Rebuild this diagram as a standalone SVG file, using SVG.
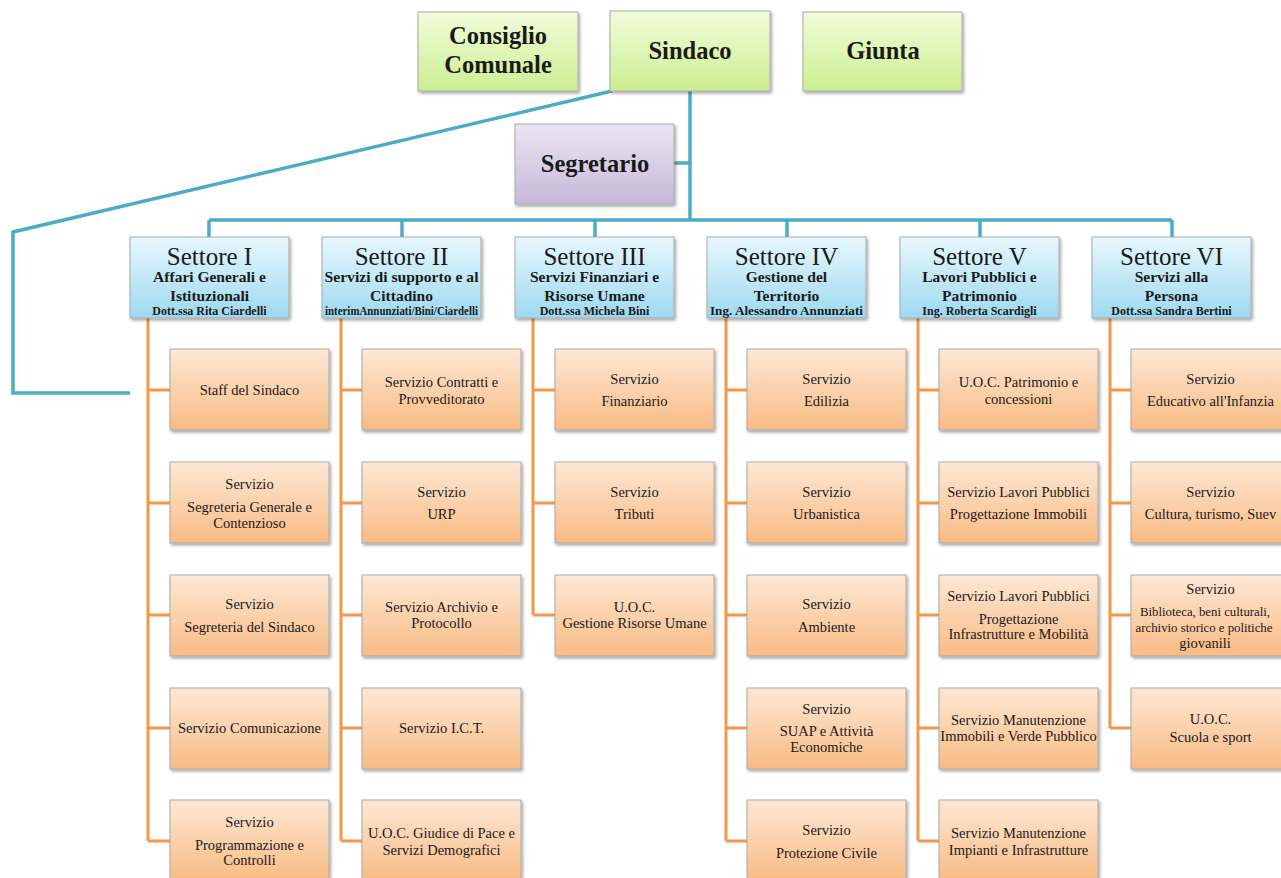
<svg xmlns="http://www.w3.org/2000/svg" width="1281" height="878" viewBox="0 0 1281 878">
<defs>
<linearGradient id="gGreen" x1="0" y1="0" x2="0" y2="1"><stop offset="0" stop-color="#f1fcda"/><stop offset="1" stop-color="#ccef92"/></linearGradient>
<linearGradient id="gPurple" x1="0" y1="0" x2="0" y2="1"><stop offset="0" stop-color="#ece6f3"/><stop offset="1" stop-color="#c7b8da"/></linearGradient>
<linearGradient id="gBlue" x1="0" y1="0" x2="0" y2="1"><stop offset="0" stop-color="#e8f7fd"/><stop offset="1" stop-color="#9dd9f0"/></linearGradient>
<linearGradient id="gOrange" x1="0" y1="0" x2="0" y2="1"><stop offset="0" stop-color="#fde8d6"/><stop offset="1" stop-color="#f9bb84"/></linearGradient>
<filter id="sh" x="-10%" y="-10%" width="125%" height="130%"><feDropShadow dx="1.5" dy="2" stdDeviation="1.5" flood-color="#000" flood-opacity="0.35"/></filter>
</defs>
<style>
.box{stroke:#a9a9a9;stroke-width:1;filter:url(#sh)}
.green{fill:url(#gGreen)}
.purple{fill:url(#gPurple)}
.blue{fill:url(#gBlue)}
.orange{fill:url(#gOrange)}
text{font-family:"Liberation Serif","DejaVu Serif",serif;fill:#1a1a1a;text-anchor:middle}
.top{font-size:24.5px;font-weight:bold}
.st{font-size:25px}
.sub{font-size:15.5px;font-weight:bold}
.nm{font-size:12px;font-weight:bold}
.sv{font-size:14.5px}
.svs{font-size:12.8px}
.cb{fill:none;stroke:#4bacc6;stroke-width:3.5}
.co{fill:none;stroke:#f79646;stroke-width:3}
</style>
<rect width="1281" height="878" fill="#ffffff"/>

<g id="connectors">
<path class="cb" d="M690 91 V220 M674 163 H690 M209 220 H1172 M209 220 V237 M402 220 V237 M595 220 V237 M787 220 V237 M980 220 V237 M1172 220 V237"/>
<path class="cb" d="M612 91 L13 232 V393 H130"/>
<path class="co" d="M148 318 V841 M148 390 H170 M148 503 H170 M148 615 H170 M148 728 H170 M148 841 H170"/>
<path class="co" d="M341 318 V841 M341 390 H362 M341 503 H362 M341 615 H362 M341 728 H362 M341 841 H362"/>
<path class="co" d="M533 318 V615 M533 390 H555 M533 503 H555 M533 615 H555"/>
<path class="co" d="M726 318 V841 M726 390 H747 M726 503 H747 M726 615 H747 M726 728 H747 M726 841 H747"/>
<path class="co" d="M918 318 V841 M918 390 H939 M918 503 H939 M918 615 H939 M918 728 H939 M918 841 H939"/>
<path class="co" d="M1110 318 V728 M1110 390 H1131 M1110 503 H1131 M1110 615 H1131 M1110 728 H1131"/>
</g>

<g id="consiglio"><rect class="box green" x="418" y="12" width="160" height="79"/><text class="top" x="498" y="44">Consiglio</text><text class="top" x="498" y="73">Comunale</text></g>
<g id="sindaco"><rect class="box green" x="610" y="11" width="160" height="80"/><text class="top" x="690" y="59">Sindaco</text></g>
<g id="giunta"><rect class="box green" x="803" y="12" width="159" height="79"/><text class="top" x="883" y="59">Giunta</text></g>
<g id="segretario"><rect class="box purple" x="515" y="124" width="159" height="80"/><text class="top" x="595" y="172">Segretario</text></g>

<g id="settore1"><rect class="box blue" x="130" y="237" width="159" height="81"/><text class="st" x="209.5" y="265">Settore I</text><text class="sub" x="209.5" y="282">Affari Generali e</text><text class="sub" x="209.5" y="301">Istituzionali</text><text class="nm" x="209.5" y="315">Dott.ssa Rita Ciardelli</text></g>
<g id="settore2"><rect class="box blue" x="322" y="237" width="159" height="81"/><text class="st" x="401.5" y="265">Settore II</text><text class="sub" x="401.5" y="282" textLength="154" lengthAdjust="spacingAndGlyphs">Servizi di supporto e  al</text><text class="sub" x="401.5" y="301">Cittadino</text><text class="nm" x="401.5" y="315" textLength="153" lengthAdjust="spacingAndGlyphs" font-size="10">interimAnnunziati/Bini/Ciardelli</text></g>
<g id="settore3"><rect class="box blue" x="515" y="237" width="159" height="81"/><text class="st" x="594.5" y="265">Settore III</text><text class="sub" x="594.5" y="282">Servizi Finanziari e</text><text class="sub" x="594.5" y="301">Risorse Umane</text><text class="nm" x="594.5" y="315">Dott.ssa Michela Bini</text></g>
<g id="settore4"><rect class="box blue" x="707" y="237" width="159" height="81"/><text class="st" x="786.5" y="265">Settore IV</text><text class="sub" x="786.5" y="282">Gestione del</text><text class="sub" x="786.5" y="301">Territorio</text><text class="nm" x="786.5" y="315" textLength="153" lengthAdjust="spacingAndGlyphs">Ing. Alessandro Annunziati</text></g>
<g id="settore5"><rect class="box blue" x="900" y="237" width="159" height="81"/><text class="st" x="979.5" y="265">Settore V</text><text class="sub" x="979.5" y="282">Lavori Pubblici e</text><text class="sub" x="979.5" y="301">Patrimonio</text><text class="nm" x="979.5" y="315">Ing. Roberta Scardigli</text></g>
<g id="settore6"><rect class="box blue" x="1092" y="237" width="159" height="81"/><text class="st" x="1171.5" y="265">Settore VI</text><text class="sub" x="1171.5" y="282">Servizi alla</text><text class="sub" x="1171.5" y="301">Persona</text><text class="nm" x="1171.5" y="315">Dott.ssa Sandra Bertini</text></g>

<g id="s1-1"><rect class="box orange" x="170" y="349" width="159" height="81"/><text class="sv" x="249.5" y="395">Staff del Sindaco</text></g>
<g id="s1-2"><rect class="box orange" x="170" y="462" width="159" height="81"/><text class="sv" x="249.5" y="489">Servizio</text><text class="sv" x="249.5" y="512">Segreteria Generale e</text><text class="sv" x="249.5" y="528">Contenzioso</text></g>
<g id="s1-3"><rect class="box orange" x="170" y="575" width="159" height="81"/><text class="sv" x="249.5" y="609">Servizio</text><text class="sv" x="249.5" y="632">Segreteria del Sindaco</text></g>
<g id="s1-4"><rect class="box orange" x="170" y="688" width="159" height="81"/><text class="sv" x="249.5" y="733">Servizio Comunicazione</text></g>
<g id="s1-5"><rect class="box orange" x="170" y="800" width="159" height="81"/><text class="sv" x="249.5" y="827">Servizio</text><text class="sv" x="249.5" y="850">Programmazione e</text><text class="sv" x="249.5" y="865">Controlli</text></g>

<g id="s2-1"><rect class="box orange" x="362" y="349" width="159" height="81"/><text class="sv" x="441.5" y="387">Servizio Contratti  e</text><text class="sv" x="441.5" y="404">Provveditorato</text></g>
<g id="s2-2"><rect class="box orange" x="362" y="462" width="159" height="81"/><text class="sv" x="441.5" y="497">Servizio</text><text class="sv" x="441.5" y="519">URP</text></g>
<g id="s2-3"><rect class="box orange" x="362" y="575" width="159" height="81"/><text class="sv" x="441.5" y="612">Servizio Archivio e</text><text class="sv" x="441.5" y="628">Protocollo</text></g>
<g id="s2-4"><rect class="box orange" x="362" y="688" width="159" height="81"/><text class="sv" x="441.5" y="733">Servizio I.C.T.</text></g>
<g id="s2-5"><rect class="box orange" x="362" y="800" width="159" height="81"/><text class="sv" x="441.5" y="838">U.O.C. Giudice di Pace e</text><text class="sv" x="441.5" y="855">Servizi Demografici</text></g>

<g id="s3-1"><rect class="box orange" x="555" y="349" width="159" height="81"/><text class="sv" x="634.5" y="384">Servizio</text><text class="sv" x="634.5" y="406">Finanziario</text></g>
<g id="s3-2"><rect class="box orange" x="555" y="462" width="159" height="81"/><text class="sv" x="634.5" y="497">Servizio</text><text class="sv" x="634.5" y="519">Tributi</text></g>
<g id="s3-3"><rect class="box orange" x="555" y="575" width="159" height="81"/><text class="sv" x="634.5" y="612">U.O.C.</text><text class="sv" x="634.5" y="628">Gestione Risorse Umane</text></g>

<g id="s4-1"><rect class="box orange" x="747" y="349" width="159" height="81"/><text class="sv" x="826.5" y="384">Servizio</text><text class="sv" x="826.5" y="406">Edilizia</text></g>
<g id="s4-2"><rect class="box orange" x="747" y="462" width="159" height="81"/><text class="sv" x="826.5" y="497">Servizio</text><text class="sv" x="826.5" y="519">Urbanistica</text></g>
<g id="s4-3"><rect class="box orange" x="747" y="575" width="159" height="81"/><text class="sv" x="826.5" y="609">Servizio</text><text class="sv" x="826.5" y="632">Ambiente</text></g>
<g id="s4-4"><rect class="box orange" x="747" y="688" width="159" height="81"/><text class="sv" x="826.5" y="714">Servizio</text><text class="sv" x="826.5" y="736">SUAP e Attività</text><text class="sv" x="826.5" y="752">Economiche</text></g>
<g id="s4-5"><rect class="box orange" x="747" y="800" width="159" height="81"/><text class="sv" x="826.5" y="835">Servizio</text><text class="sv" x="826.5" y="858">Protezione Civile</text></g>

<g id="s5-1"><rect class="box orange" x="939" y="349" width="159" height="81"/><text class="sv" x="1018.5" y="387">U.O.C. Patrimonio e</text><text class="sv" x="1018.5" y="404">concessioni</text></g>
<g id="s5-2"><rect class="box orange" x="939" y="462" width="159" height="81"/><text class="sv" x="1018.5" y="497">Servizio Lavori Pubblici</text><text class="sv" x="1018.5" y="519">Progettazione Immobili</text></g>
<g id="s5-3"><rect class="box orange" x="939" y="575" width="159" height="81"/><text class="sv" x="1018.5" y="601">Servizio Lavori Pubblici</text><text class="sv" x="1018.5" y="624">Progettazione</text><text class="sv" x="1018.5" y="639">Infrastrutture e Mobilità</text></g>
<g id="s5-4"><rect class="box orange" x="939" y="688" width="159" height="81"/><text class="sv" x="1018.5" y="725">Servizio Manutenzione</text><text class="sv" x="1018.5" y="741">Immobili e Verde Pubblico</text></g>
<g id="s5-5"><rect class="box orange" x="939" y="800" width="159" height="81"/><text class="sv" x="1018.5" y="838">Servizio Manutenzione</text><text class="sv" x="1018.5" y="855">Impianti e Infrastrutture</text></g>

<g id="s6-1"><rect class="box orange" x="1131" y="349" width="159" height="81"/><text class="sv" x="1210.5" y="384">Servizio</text><text class="sv" x="1210.5" y="406">Educativo all'Infanzia</text></g>
<g id="s6-2"><rect class="box orange" x="1131" y="462" width="159" height="81"/><text class="sv" x="1210.5" y="497">Servizio</text><text class="sv" x="1210.5" y="519">Cultura, turismo, Suev</text></g>
<g id="s6-3"><rect class="box orange" x="1131" y="575" width="159" height="81"/><text class="sv" x="1210.5" y="594">Servizio</text><text class="svs" x="1205" y="616">Biblioteca, beni culturali,</text><text class="svs" x="1204" y="632">archivio storico e politiche</text><text class="sv" x="1205" y="648">giovanili</text></g>
<g id="s6-4"><rect class="box orange" x="1131" y="688" width="159" height="81"/><text class="sv" x="1210.5" y="724">U.O.C.</text><text class="sv" x="1210.5" y="742">Scuola e sport</text></g>
</svg>
